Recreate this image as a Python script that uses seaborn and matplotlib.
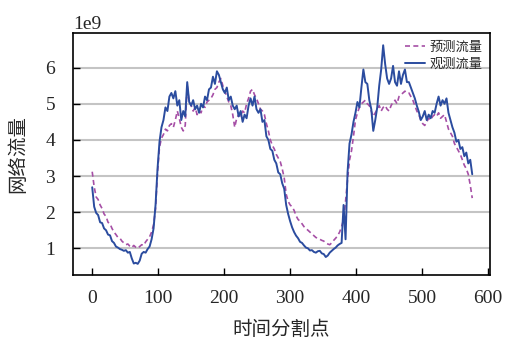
import numpy as np
import pandas as pd
import matplotlib
matplotlib.use("Agg")
import matplotlib.pyplot as plt
import seaborn as sns

# time split points (every 3rd point)
t = list(range(0, 577, 3))

# observed traffic (x 1e9)
obs_vals = [
    2.69, 2.15, 1.98, 1.92, 1.72, 1.70, 1.55, 1.50, 1.38, 1.36,
    1.20, 1.15, 1.05, 1.02, 0.98, 0.96, 0.93, 0.95, 0.88, 0.90,
    0.72, 0.58, 0.60, 0.57, 0.66, 0.85, 0.90, 0.88, 0.98, 1.05,
    1.25, 1.55, 2.20, 3.20, 3.95, 4.35, 4.55, 4.90, 4.80, 5.20,
    5.30, 5.15, 5.35, 4.95, 5.10, 4.55, 4.80, 4.65, 5.60, 5.05,
    4.95, 5.10, 4.85, 4.95, 4.75, 5.00, 4.90, 5.20, 5.10, 5.40,
    5.45, 5.75, 5.55, 5.90, 5.80, 5.60, 5.40, 5.30, 5.45, 5.10,
    5.20, 4.95, 4.85, 4.95, 4.65, 4.80, 4.50, 4.70, 4.60, 4.95,
    5.15, 4.95, 5.20, 4.85, 4.75, 4.85, 4.50, 4.55, 4.10, 4.00,
    3.75, 3.70, 3.45, 3.35, 3.10, 3.05, 2.80, 2.65, 2.20, 1.95,
    1.75, 1.58, 1.45, 1.35, 1.28, 1.18, 1.15, 1.08, 1.02, 1.00,
    0.94, 0.95, 0.90, 0.88, 0.92, 0.93, 0.86, 0.84, 0.76, 0.80,
    0.88, 0.93, 0.98, 1.02, 1.08, 1.12, 1.15, 2.20, 1.25, 3.10,
    3.90, 4.15, 4.50, 4.75, 5.05, 4.90, 5.45, 5.95, 5.60, 5.55,
    5.10, 4.85, 4.25, 4.55, 4.90, 5.50, 5.95, 6.62, 6.10, 5.70,
    5.55, 5.70, 6.05, 5.60, 5.50, 5.90, 5.55, 5.80, 5.95, 5.60,
    5.60, 5.45, 5.30, 5.15, 4.95, 4.78, 4.55, 4.65, 4.80, 4.55,
    4.70, 4.60, 4.80, 4.75, 5.00, 5.20, 4.95, 5.10, 5.00, 5.15,
    4.75, 4.55, 4.35, 4.20, 3.95, 4.00, 3.75, 3.80, 3.55, 3.65,
    3.35, 3.45, 3.05]

# predicted traffic (x 1e9)
pred_vals = [
    3.12, 2.70, 2.42, 2.35, 2.20, 2.10, 1.95, 1.88, 1.72, 1.68,
    1.55, 1.45, 1.38, 1.30, 1.28, 1.20, 1.15, 1.10, 1.12, 1.06,
    1.02, 1.08, 1.03, 1.00, 1.05, 1.10, 1.08, 1.18, 1.25, 1.32,
    1.45, 1.65, 2.10, 3.10, 3.80, 4.05, 4.15, 4.30, 4.25, 4.40,
    4.45, 4.35, 4.55, 4.80, 4.60, 4.35, 4.25, 4.40, 5.50, 5.05,
    4.95, 4.80, 4.90, 4.70, 4.80, 4.75, 4.95, 4.90, 5.05, 5.10,
    5.15, 5.25, 5.40, 5.45, 5.60, 5.70, 5.50, 5.35, 5.20, 5.05,
    4.95, 4.70, 4.35, 4.60, 4.70, 4.65, 4.80, 4.75, 5.00, 5.15,
    5.35, 5.40, 5.25, 5.15, 5.00, 4.85, 4.80, 4.70, 4.45, 4.25,
    4.00, 3.85, 3.75, 3.60, 3.50, 3.40, 3.20, 2.95, 2.50, 2.30,
    2.20, 2.15, 2.05, 1.90, 1.80, 1.75, 1.68, 1.60, 1.55, 1.50,
    1.45, 1.40, 1.35, 1.30, 1.28, 1.25, 1.22, 1.20, 1.15, 1.12,
    1.10, 1.15, 1.22, 1.28, 1.35, 1.45, 1.60, 1.80, 2.30, 2.90,
    3.44, 3.70, 4.10, 4.55, 4.75, 4.90, 5.00, 5.05, 5.10, 5.00,
    4.95, 4.80, 4.65, 4.75, 4.85, 4.95, 4.80, 4.90, 4.95, 4.85,
    4.80, 4.95, 5.05, 5.10, 5.00, 5.20, 5.25, 5.30, 5.35, 5.30,
    5.30, 5.20, 5.10, 4.95, 4.80, 4.70, 4.55, 4.45, 4.40, 4.50,
    4.60, 4.55, 4.65, 4.70, 4.65, 4.75, 4.60, 4.65, 4.70, 4.50,
    4.30, 4.20, 4.10, 3.90, 3.80, 3.70, 3.60, 3.45, 3.30, 3.20,
    3.05, 2.75, 2.39]

assert len(t) == len(obs_vals) == len(pred_vals)

SCALE = 1e9
labels = ["预测流量", "观测流量"]
xticks = [0, 100, 200, 300, 400, 500, 600]
yticks = [1, 2, 3, 4, 5, 6]

df_obs = pd.DataFrame({"t": t, "v": np.array(obs_vals) * SCALE})
df_pred = pd.DataFrame({"t": t, "v": np.array(pred_vals) * SCALE})

sns.set_style("ticks")
plt.rcParams["font.family"] = ["Liberation Serif", "Noto Sans CJK SC"]
plt.rcParams["xtick.direction"] = "in"
plt.rcParams["ytick.direction"] = "in"

fig = plt.figure(figsize=(5.11, 3.40), dpi=100)
ax = fig.add_axes([0.143, 0.191, 0.816, 0.712])

ax.yaxis.grid(True, color="#c4c4c4", linewidth=1.5)
ax.set_axisbelow(True)

sns.lineplot(data=df_pred, x="t", y="v", ax=ax, color="#a64fa6",
             linewidth=1.2, linestyle=(0, (3, 2)), label=labels[0])
sns.lineplot(data=df_obs, x="t", y="v", ax=ax, color="#2b4c9f",
             linewidth=1.4, label=labels[1])

ax.set_xlim(-29, 603)
ax.set_ylim(0.26e9, 6.96e9)
ax.set_xticks(xticks)
ax.set_yticks([v * SCALE for v in yticks])
ax.tick_params(axis="both", labelsize=14, length=5, width=1, color="black")
ax.tick_params(axis="x", pad=11)
ax.tick_params(axis="y", pad=13)
ax.yaxis.get_offset_text().set_fontsize(14)

for s in ax.spines.values():
    s.set_color("black")
    s.set_linewidth(1.2)

ax.set_xlabel("时间分割点", fontsize=14, family=["Noto Sans CJK SC"])
ax.set_ylabel("网络流量", fontsize=14, family=["Noto Sans CJK SC"])
ax.xaxis.set_label_coords(0.5, -0.18)
ax.yaxis.set_label_coords(-0.108, 0.5)

leg = ax.legend(loc="upper right", frameon=False, handlelength=1.5,
                prop={"family": "Noto Sans CJK SC", "size": 9.5},
                borderaxespad=0.2, labelspacing=0.3, handletextpad=0.3)

fig.savefig("out.png", dpi=100)
